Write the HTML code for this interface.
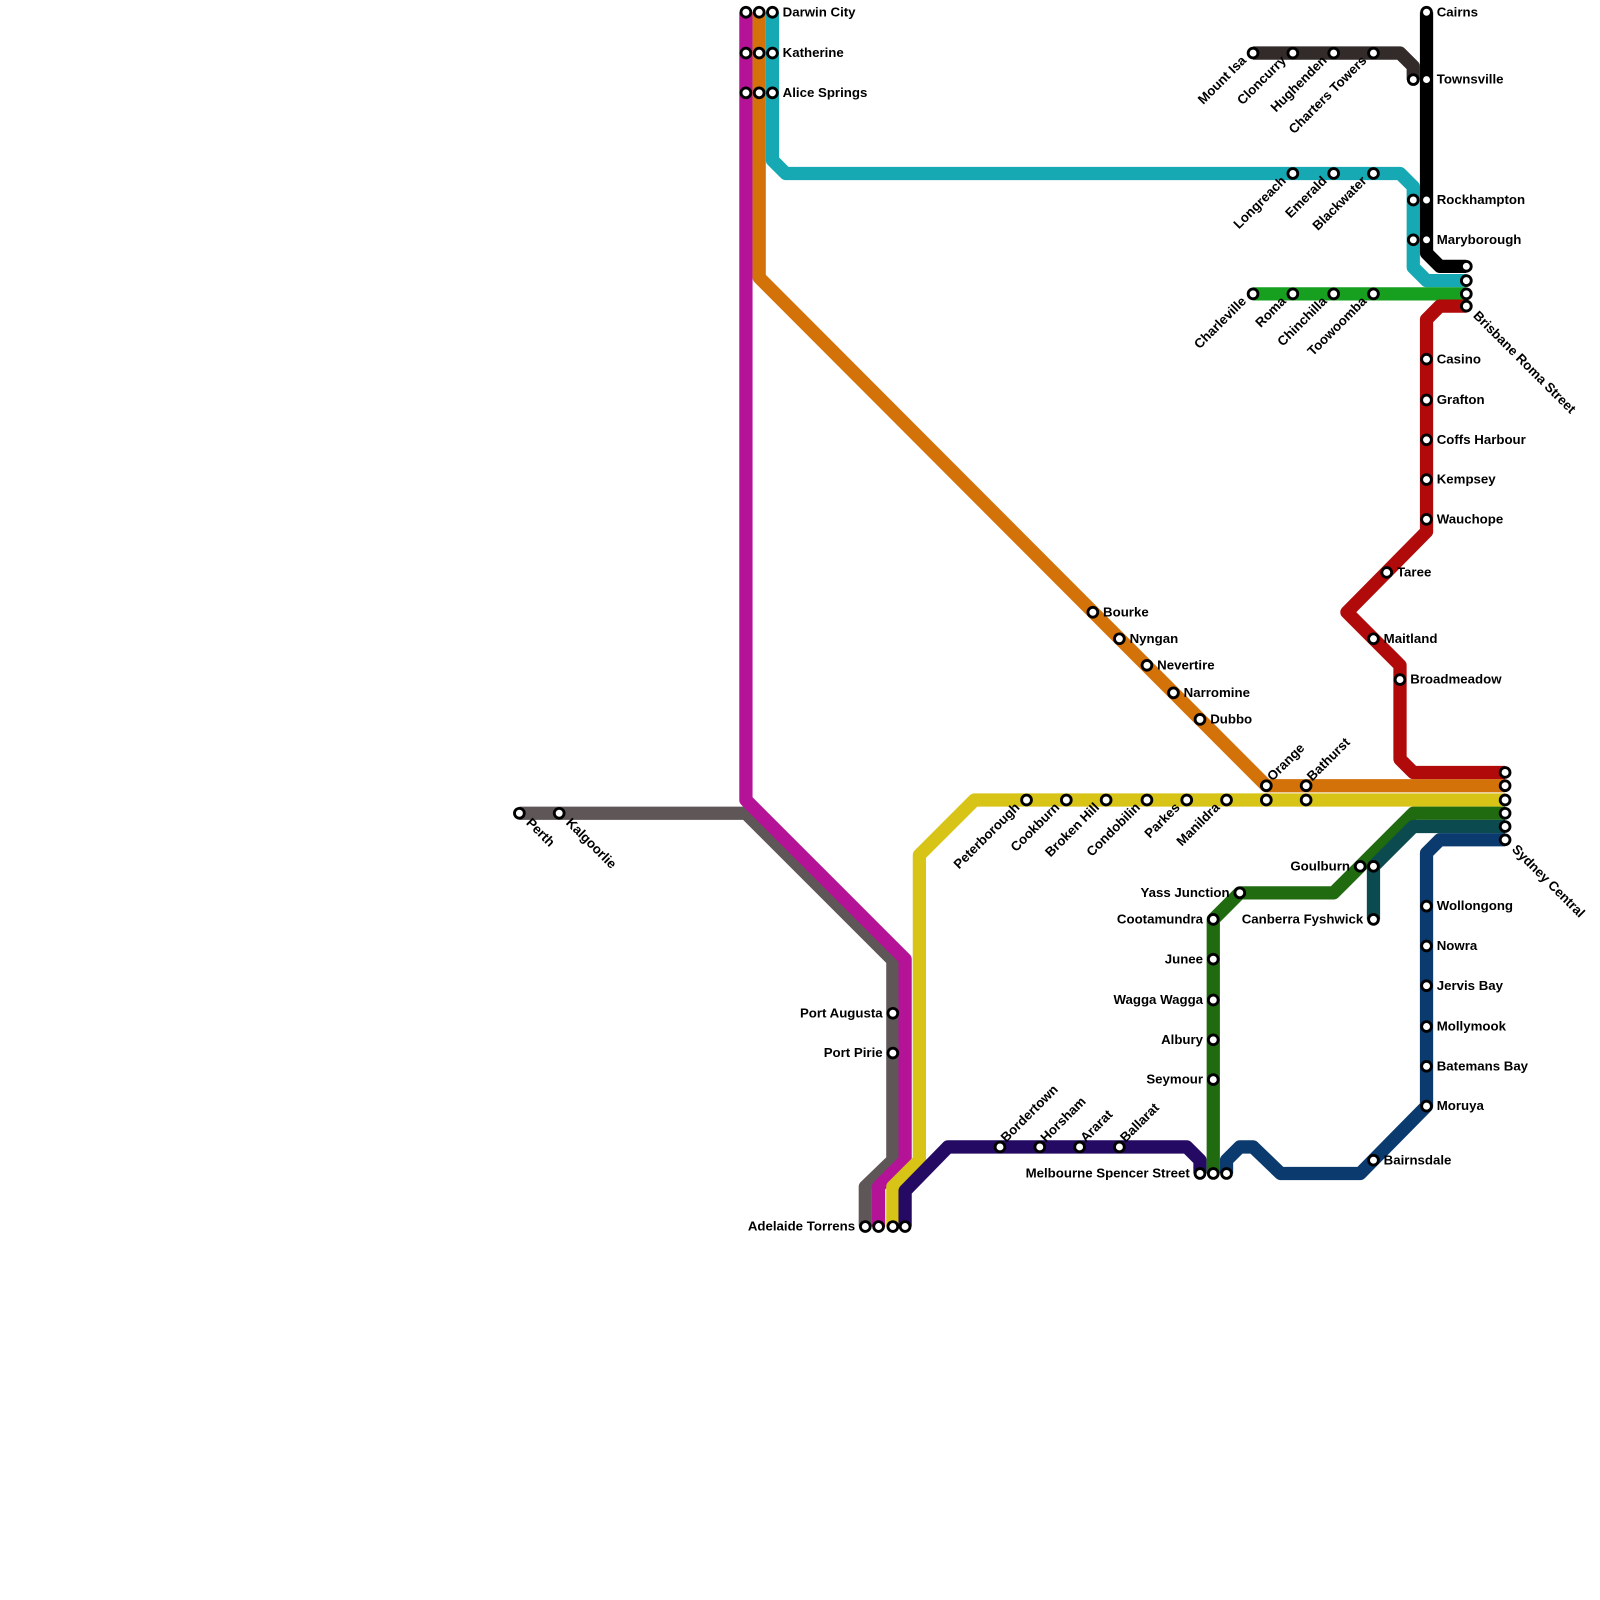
<!DOCTYPE html>
<html><head><meta charset="utf-8"><style>html,body{margin:0;padding:0;background:#fff}svg{display:block}text{font-family:"Liberation Sans",sans-serif;font-weight:bold;font-size:13px;fill:#000}</style></head><body>
<svg width="1600" height="1600" viewBox="0 0 1568 1568" xmlns="http://www.w3.org/2000/svg">
<g fill="none" stroke-width="13" stroke-linejoin="round">
<polyline stroke="#5f5757" points="509,797 731,797 875,941 875,1137 848,1163 848,1202"/>
<polyline stroke="#b41297" points="731,12 731,784 887,940 887,1137 861,1163 861,1202"/>
<polyline stroke="#d7c416" points="1475,784 955,784 901,838 901,1137 875,1163 875,1202"/>
<polyline stroke="#240a62" points="887,1202 887,1167 929,1124 1163,1124 1176,1137 1176,1150"/>
<polyline stroke="#d4720a" points="744,12 744,272 1241,770 1475,770"/>
<polyline stroke="#17a9b3" points="757,12 757,157 770,170 1372,170 1385,183 1385,262 1398,275 1437,275"/>
<polyline stroke="#000" points="1398,12 1398,248 1411,261 1437,261"/>
<polyline stroke="#332a2a" points="1228,52 1372,52 1385,65 1385,78"/>
<polyline stroke="#17a020" points="1228,288 1437,288"/>
<polyline stroke="#b00a0a" points="1437,300 1411,300 1398,313 1398,521 1320,600 1372,652 1372,744 1385,757 1475,757"/>
<polyline stroke="#206a10" points="1475,797 1385,797 1307,875 1215,875 1189,901 1189,1150"/>
<polyline stroke="#0b4a4f" points="1475,810 1385,810 1346,849 1346,901"/>
<polyline stroke="#0a3a6e" points="1475,823 1411,823 1398,836 1398,1084 1333,1150 1255,1150 1228,1124 1215,1124 1202,1137 1202,1150"/>
</g>
<g fill="#fff" stroke="#000" stroke-width="2.8">
<circle cx="731" cy="12" r="4.8"/><circle cx="744" cy="12" r="4.8"/><circle cx="757" cy="12" r="4.8"/>
<circle cx="731" cy="52" r="4.8"/><circle cx="744" cy="52" r="4.8"/><circle cx="757" cy="52" r="4.8"/>
<circle cx="731" cy="91" r="4.8"/><circle cx="744" cy="91" r="4.8"/><circle cx="757" cy="91" r="4.8"/>
<circle cx="509" cy="797" r="4.8"/><circle cx="548" cy="797" r="4.8"/>
<circle cx="875" cy="993" r="4.8"/><circle cx="875" cy="1032" r="4.8"/>
<circle cx="848" cy="1202" r="4.8"/><circle cx="861" cy="1202" r="4.8"/><circle cx="875" cy="1202" r="4.8"/><circle cx="887" cy="1202" r="4.8"/>
<circle cx="980" cy="1124" r="4.8"/><circle cx="1019" cy="1124" r="4.8"/><circle cx="1058" cy="1124" r="4.8"/><circle cx="1097" cy="1124" r="4.8"/>
<circle cx="1176" cy="1150" r="4.8"/><circle cx="1189" cy="1150" r="4.8"/><circle cx="1202" cy="1150" r="4.8"/>
<circle cx="1006" cy="784" r="4.8"/><circle cx="1045" cy="784" r="4.8"/><circle cx="1084" cy="784" r="4.8"/><circle cx="1124" cy="784" r="4.8"/><circle cx="1163" cy="784" r="4.8"/><circle cx="1202" cy="784" r="4.8"/><circle cx="1241" cy="784" r="4.8"/><circle cx="1280" cy="784" r="4.8"/>
<circle cx="1071" cy="600" r="4.8"/><circle cx="1097" cy="626" r="4.8"/><circle cx="1124" cy="652" r="4.8"/><circle cx="1150" cy="679" r="4.8"/><circle cx="1176" cy="705" r="4.8"/><circle cx="1241" cy="770" r="4.8"/><circle cx="1280" cy="770" r="4.8"/>
<circle cx="1475" cy="757" r="4.8"/><circle cx="1475" cy="770" r="4.8"/><circle cx="1475" cy="784" r="4.8"/><circle cx="1475" cy="797" r="4.8"/><circle cx="1475" cy="810" r="4.8"/><circle cx="1475" cy="823" r="4.8"/>
<circle cx="1333" cy="849" r="4.8"/><circle cx="1346" cy="849" r="4.8"/><circle cx="1346" cy="901" r="4.8"/>
<circle cx="1215" cy="875" r="4.8"/><circle cx="1189" cy="901" r="4.8"/><circle cx="1189" cy="940" r="4.8"/><circle cx="1189" cy="980" r="4.8"/><circle cx="1189" cy="1019" r="4.8"/><circle cx="1189" cy="1058" r="4.8"/>
<circle cx="1398" cy="888" r="4.8"/><circle cx="1398" cy="927" r="4.8"/><circle cx="1398" cy="966" r="4.8"/><circle cx="1398" cy="1006" r="4.8"/><circle cx="1398" cy="1045" r="4.8"/><circle cx="1398" cy="1084" r="4.8"/><circle cx="1346" cy="1137" r="4.8"/>
<circle cx="1398" cy="352" r="4.8"/><circle cx="1398" cy="392" r="4.8"/><circle cx="1398" cy="431" r="4.8"/><circle cx="1398" cy="470" r="4.8"/><circle cx="1398" cy="509" r="4.8"/><circle cx="1359" cy="561" r="4.8"/><circle cx="1346" cy="626" r="4.8"/><circle cx="1372" cy="666" r="4.8"/>
<circle cx="1437" cy="261" r="4.8"/><circle cx="1437" cy="275" r="4.8"/><circle cx="1437" cy="288" r="4.8"/><circle cx="1437" cy="300" r="4.8"/>
<circle cx="1228" cy="288" r="4.8"/><circle cx="1267" cy="288" r="4.8"/><circle cx="1307" cy="288" r="4.8"/><circle cx="1346" cy="288" r="4.8"/>
<circle cx="1267" cy="170" r="4.8"/><circle cx="1307" cy="170" r="4.8"/><circle cx="1346" cy="170" r="4.8"/>
<circle cx="1385" cy="196" r="4.8"/><circle cx="1398" cy="196" r="4.8"/><circle cx="1385" cy="235" r="4.8"/><circle cx="1398" cy="235" r="4.8"/>
<circle cx="1228" cy="52" r="4.8"/><circle cx="1267" cy="52" r="4.8"/><circle cx="1307" cy="52" r="4.8"/><circle cx="1346" cy="52" r="4.8"/>
<circle cx="1385" cy="78" r="4.8"/><circle cx="1398" cy="78" r="4.8"/><circle cx="1398" cy="12" r="4.8"/>
</g>
<g>
<text x="767" y="16">Darwin City</text><text x="767" y="56">Katherine</text><text x="767" y="95">Alice Springs</text>
<text x="1081" y="604">Bourke</text><text x="1107" y="630">Nyngan</text><text x="1134" y="656">Nevertire</text><text x="1160" y="683">Narromine</text><text x="1186" y="709">Dubbo</text>
<text x="1408" y="892">Wollongong</text><text x="1408" y="931">Nowra</text><text x="1408" y="970">Jervis Bay</text><text x="1408" y="1010">Mollymook</text><text x="1408" y="1049">Batemans Bay</text><text x="1408" y="1088">Moruya</text><text x="1356" y="1141">Bairnsdale</text>
<text x="1408" y="356">Casino</text><text x="1408" y="396">Grafton</text><text x="1408" y="435">Coffs Harbour</text><text x="1408" y="474">Kempsey</text><text x="1408" y="513">Wauchope</text><text x="1369" y="565">Taree</text><text x="1356" y="630">Maitland</text><text x="1382" y="670">Broadmeadow</text>
<text x="1408" y="200">Rockhampton</text><text x="1408" y="239">Maryborough</text><text x="1408" y="82">Townsville</text><text x="1408" y="16">Cairns</text>
</g>
<g text-anchor="end">
<text x="865" y="997">Port Augusta</text><text x="865" y="1036">Port Pirie</text><text x="838" y="1206">Adelaide Torrens</text>
<text x="1166" y="1154">Melbourne Spencer Street</text>
<text x="1323" y="853">Goulburn</text><text x="1336" y="905">Canberra Fyshwick</text><text x="1205" y="879">Yass Junction</text>
<text x="1179" y="905">Cootamundra</text><text x="1179" y="944">Junee</text><text x="1179" y="984">Wagga Wagga</text><text x="1179" y="1023">Albury</text><text x="1179" y="1062">Seymour</text>
</g>
<g text-anchor="end">
<text transform="translate(1000,792) rotate(-45)">Peterborough</text>
<text transform="translate(1039,792) rotate(-45)">Cookburn</text>
<text transform="translate(1078,792) rotate(-45)">Broken Hill</text>
<text transform="translate(1118,792) rotate(-45)">Condobilin</text>
<text transform="translate(1157,792) rotate(-45)">Parkes</text>
<text transform="translate(1196,792) rotate(-45)">Manildra</text>
<text transform="translate(1222,296) rotate(-45)">Charleville</text>
<text transform="translate(1261,296) rotate(-45)">Roma</text>
<text transform="translate(1301,296) rotate(-45)">Chinchilla</text>
<text transform="translate(1340,296) rotate(-45)">Toowoomba</text>
<text transform="translate(1261,178) rotate(-45)">Longreach</text>
<text transform="translate(1301,178) rotate(-45)">Emerald</text>
<text transform="translate(1340,178) rotate(-45)">Blackwater</text>
<text transform="translate(1222,60) rotate(-45)">Mount Isa</text>
<text transform="translate(1261,60) rotate(-45)">Cloncurry</text>
<text transform="translate(1301,60) rotate(-45)">Hughenden</text>
<text transform="translate(1340,60) rotate(-45)">Charters Towers</text>
</g>
<g>
<text transform="translate(986,1120) rotate(-45)">Bordertown</text>
<text transform="translate(1025,1120) rotate(-45)">Horsham</text>
<text transform="translate(1064,1120) rotate(-45)">Ararat</text>
<text transform="translate(1103,1120) rotate(-45)">Ballarat</text>
<text transform="translate(1247,766) rotate(-45)">Orange</text>
<text transform="translate(1286,766) rotate(-45)">Bathurst</text>
</g>
<g>
<text transform="translate(515,807) rotate(45)">Perth</text>
<text transform="translate(554,807) rotate(45)">Kalgoorlie</text>
<text transform="translate(1481,833) rotate(45)">Sydney Central</text>
<text transform="translate(1443,310) rotate(45)">Brisbane Roma Street</text>
</g>
</svg>
</body></html>
